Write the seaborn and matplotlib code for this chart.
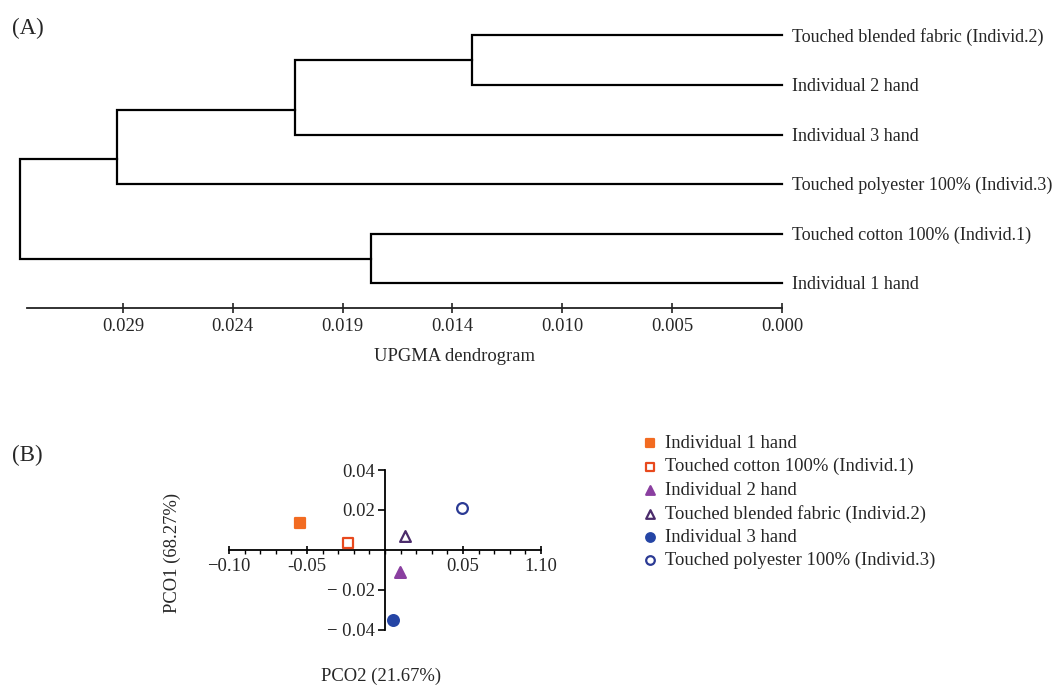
import numpy as np
import pandas as pd
import matplotlib.pyplot as plt
from matplotlib.ticker import MultipleLocator
import seaborn as sns

# ---- (A) UPGMA dendrogram data ----
leaf_labels = [
    "Touched blended fabric (Individ.2)",
    "Individual 2 hand",
    "Individual 3 hand",
    "Touched polyester 100% (Individ.3)",
    "Touched cotton 100% (Individ.1)",
    "Individual 1 hand",
]
# merges written like a scipy linkage: new cluster ids start after the leaves
merge_left = [0, 6, 7, 4, 8]
merge_right = [1, 2, 3, 5, 9]
merge_height = [0.01364, 0.02143, 0.02926, 0.01809, 0.03353]
tick_labels_a = ["0.029", "0.024", "0.019", "0.014", "0.010", "0.005", "0.000"]

# ---- (B) PCO data ----
samples = [
    "Individual 1 hand",
    "Touched cotton 100% (Individ.1)",
    "Individual 2 hand",
    "Touched blended fabric (Individ.2)",
    "Individual 3 hand",
    "Touched polyester 100% (Individ.3)",
]
pco2 = [-0.0545, -0.0235, 0.0098, 0.0128, 0.0053, 0.0496]
pco1 = [0.0137, 0.0034, -0.0112, 0.0068, -0.0350, 0.0208]
xticks_b = [-0.10, -0.05, 0.05, 0.10]
xtick_labels_b = ["\u22120.10", "-0.05", "0.05", "1.10"]
yticks_b = [-0.04, -0.02, 0.02, 0.04]
ytick_labels_b = ["\u2212 0.04", "\u2212 0.02", "0.02", "0.04"]

markers = ["s", "s", "^", "^", "o", "o"]
face_colors = ["#F26B21", "white", "#8A3FA0", "white", "#2545A5", "white"]
edge_colors = ["#F26B21", "#E8491D", "#8A3FA0", "#4B2C6B", "#2545A5", "#2B3A94"]

sns.set_theme(style="white")
plt.rcParams['font.family'] = ['Liberation Serif', 'DejaVu Serif']
FS = 13.4
FS_LEAF = 13.0

W, H = 1059, 686
fig = plt.figure(figsize=(W / 100, H / 100), dpi=100)

# ================= (A) =================
ax_a = fig.add_axes([20 / W, (H - 308) / H, 762 / W, 288 / H])

n = len(leaf_labels)
ypos = {i: float(i) for i in range(n)}
xpos = {i: 0.0 for i in range(n)}
span = {i: (i, i) for i in range(n)}
rows = []
for k, (a, b, h) in enumerate(zip(merge_left, merge_right, merge_height)):
    cid = n + k
    # U-shaped link: child a -> height -> child b
    pts = [(xpos[a], ypos[a]), (h, ypos[a]), (h, ypos[b]), (xpos[b], ypos[b])]
    for x, y in pts:
        rows.append({"link": k, "dist": x, "pos": y})
    span[cid] = (span[a][0], span[b][1])
    ypos[cid] = (span[a][1] + span[b][0]) / 2
    xpos[cid] = h

links = pd.DataFrame(rows)
sns.lineplot(data=links, x="dist", y="pos", units="link", estimator=None,
             sort=False, color="black", lw=1.6, ax=ax_a, clip_on=False,
             solid_joinstyle="miter", solid_capstyle="projecting")

for i, lab in enumerate(leaf_labels):
    ax_a.annotate(lab, xy=(0, i), xytext=(7.2, -1), textcoords="offset points",
                  va="center", ha="left", fontsize=FS_LEAF, annotation_clip=False)

ax_a.set_xlim(merge_height[-1], 0)
ax_a.set_ylim(5.494, -0.3125)
for s in ["left", "top", "right"]:
    ax_a.spines[s].set_visible(False)
ax_a.spines["bottom"].set_bounds(0, 0.0332)
ax_a.spines["bottom"].set_linewidth(1.3)
ax_a.spines["bottom"].set_color("#222222")
ax_a.set_xticks(np.linspace(0.029, 0, len(tick_labels_a)))
ax_a.set_xticklabels(tick_labels_a)
ax_a.tick_params(axis="x", direction="inout", length=7, width=1.2,
                 color="#222222", pad=4, labelsize=FS, bottom=True)
ax_a.set_yticks([])
ax_a.set_ylabel("")
ax_a.set_xlabel("UPGMA dendrogram", fontsize=FS)
ax_a.xaxis.set_label_coords((454 - 20) / 762, -40 / 288)

# ================= (B) =================
ax_b = fig.add_axes([229 / W, 56 / H, 312 / W, 160 / H])
for i, name in enumerate(samples):
    sns.scatterplot(x=[pco2[i]], y=[pco1[i]], marker=markers[i], s=60,
                    facecolor=face_colors[i], edgecolor=edge_colors[i],
                    linewidth=1.6, label=name, ax=ax_b, zorder=3, clip_on=False)

ax_b.set_xlim(-0.1, 0.1)
ax_b.set_ylim(-0.04, 0.04)
for s in ["top", "right"]:
    ax_b.spines[s].set_visible(False)
for s in ["left", "bottom"]:
    ax_b.spines[s].set_position(("data", 0))
    ax_b.spines[s].set_linewidth(1.3)
    ax_b.spines[s].set_color("black")
ax_b.set_xticks(xticks_b)
ax_b.set_xticklabels(xtick_labels_b)
ax_b.xaxis.set_minor_locator(MultipleLocator(0.01))
ax_b.set_yticks(yticks_b)
ax_b.set_yticklabels(ytick_labels_b)
ax_b.tick_params(axis="x", which="major", direction="inout", length=6,
                 width=1.2, pad=3, labelsize=FS, bottom=True, color="black")
ax_b.tick_params(axis="x", which="minor", direction="out", length=3,
                 width=1.0, bottom=True, color="black")
ax_b.tick_params(axis="y", direction="out", length=5, width=1.2, pad=2,
                 labelsize=FS, left=True, color="black")
ax_b.set_xlabel("")
ax_b.set_ylabel("")

handles, labels = ax_b.get_legend_handles_labels()
if ax_b.get_legend() is not None:
    ax_b.get_legend().remove()
fig.legend(handles, labels, loc="upper left",
           bbox_to_anchor=(643 / W, 1 - 435 / H), frameon=False, fontsize=FS,
           handlelength=0.8, handletextpad=0.4, labelspacing=0.33,
           borderpad=0, borderaxespad=0, markerscale=0.8)

fig.text(172 / W, 1 - 553 / H, "PCO1 (68.27%)", rotation=90, ha="center",
         va="center", fontsize=FS)
fig.text(381 / W, 1 - 676 / H, "PCO2 (21.67%)", ha="center", va="center",
         fontsize=FS)

fig.text(12 / W, 1 - 28 / H, "(A)", fontsize=16.5, va="center", ha="left")
fig.text(12 / W, 1 - 455 / H, "(B)", fontsize=16.5, va="center", ha="left")

fig.savefig("out.png", dpi=100)
